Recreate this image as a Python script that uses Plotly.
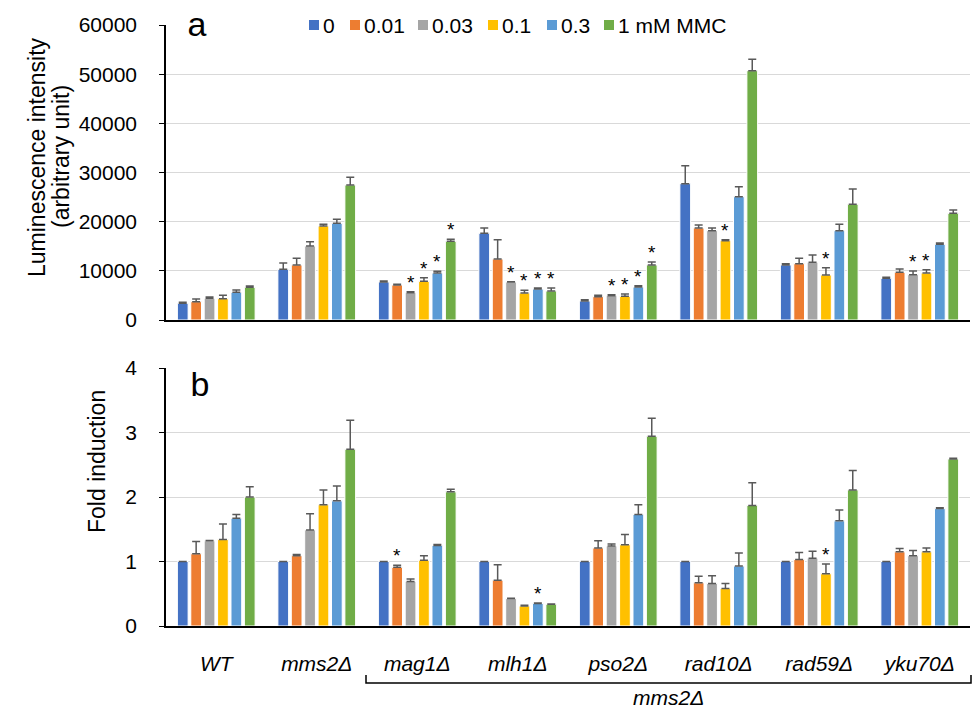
import plotly.graph_objects as go

# ---------------- data ----------------
strains = ["WT", "mms2Δ", "mag1Δ", "mlh1Δ", "pso2Δ", "rad10Δ", "rad59Δ", "yku70Δ"]
series = ["0", "0.01", "0.03", "0.1", "0.3", "1 mM MMC"]
colors = ["#4472C4", "#ED7D31", "#A5A5A5", "#FFC000", "#5B9BD5", "#70AD47"]

# Panel a: luminescence intensity, rows = strains, cols = series
lum_mean = [
    [3400, 3730, 4400, 4340, 5630, 6640],
    [10300, 11190, 15050, 19120, 19660, 27460],
    [7730, 7120, 5560, 7860, 9560, 16000],
    [17630, 12410, 7730, 5490, 6300, 5900],
    [3860, 4750, 4950, 4810, 6710, 11190],
    [27730, 18710, 18170, 16140, 25080, 50710],
    [11190, 11460, 11730, 9150, 18170, 23530],
    [8470, 9690, 9220, 9560, 15390, 21690],
]
lum_err = [
    [200, 540, 280, 680, 470, 260],
    [1290, 1350, 880, 340, 810, 1560],
    [200, 130, 200, 750, 340, 410],
    [1080, 3930, 70, 540, 210, 610],
    [280, 270, 200, 480, 270, 610],
    [3660, 610, 540, 200, 2040, 2310],
    [270, 1080, 1490, 1490, 1290, 3110],
    [210, 680, 750, 680, 270, 680],
]
lum_star = [
    [0, 0, 0, 0, 0, 0],
    [0, 0, 0, 0, 0, 0],
    [0, 0, 1, 1, 1, 1],
    [0, 0, 1, 1, 1, 1],
    [0, 0, 1, 1, 1, 1],
    [0, 0, 0, 1, 0, 0],
    [0, 0, 0, 1, 0, 0],
    [0, 0, 1, 1, 0, 0],
]

# Panel b: fold induction
fold_mean = [
    [1, 1.12, 1.32, 1.34, 1.67, 2.00],
    [1, 1.09, 1.49, 1.88, 1.94, 2.74],
    [1, 0.91, 0.69, 1.02, 1.25, 2.08],
    [1, 0.71, 0.425, 0.31, 0.35, 0.337],
    [1, 1.21, 1.24, 1.26, 1.73, 2.94],
    [1, 0.67, 0.66, 0.58, 0.93, 1.87],
    [1, 1.03, 1.05, 0.81, 1.63, 2.11],
    [1, 1.15, 1.09, 1.15, 1.82, 2.59],
]
fold_err = [
    [None, 0.19, 0.005, 0.24, 0.06, 0.16],
    [None, 0.02, 0.25, 0.23, 0.23, 0.45],
    [None, 0.03, 0.04, 0.07, 0.015, 0.04],
    [None, 0.24, 0.005, 0.01, 0.006, 0.005],
    [None, 0.11, 0.03, 0.16, 0.15, 0.28],
    [None, 0.10, 0.12, 0.08, 0.20, 0.35],
    [None, 0.11, 0.11, 0.15, 0.17, 0.30],
    [None, 0.05, 0.08, 0.06, 0.015, 0.01],
]
fold_star = [
    [0, 0, 0, 0, 0, 0],
    [0, 0, 0, 0, 0, 0],
    [0, 1, 0, 0, 0, 0],
    [0, 0, 0, 0, 1, 0],
    [0, 0, 0, 0, 0, 0],
    [0, 0, 0, 0, 0, 0],
    [0, 0, 0, 1, 0, 0],
    [0, 0, 0, 0, 0, 0],
]

lum_ticks = [0, 10000, 20000, 30000, 40000, 50000, 60000]
fold_ticks = [0, 1, 2, 3, 4]

# ---------------- layout geometry ----------------
W, H = 974, 710
ML, MR, MT, MB = 166, 4, 25, 84
PW, PH = W - ML - MR, H - MT - MB
BARGAP, GROUPGAP = 0.2, 0.2
FONT = "Liberation Sans, Arial, sans-serif"
ERRC = "#595959"
TXT = 21
TITLE = 23


def px_x(px):
    return (px - ML) / PW


def px_y(py):
    return (H - MB - py) / PH


fig = go.Figure()


def col(rows, j):
    return [r[j] for r in rows]


def nan(v):
    return float("nan") if v is None else v


for j, name in enumerate(series):
    fig.add_trace(go.Bar(
        x=strains, y=col(lum_mean, j), name=name, showlegend=False,
        marker=dict(color=colors[j], line=dict(color="white", width=1)),
        error_y=dict(type="data", symmetric=False, array=col(lum_err, j),
                     arrayminus=[0] * len(strains), color=ERRC, thickness=1.5, width=4),
        xaxis="x", yaxis="y",
    ))
    fig.add_trace(go.Bar(
        x=strains, y=col(fold_mean, j), name=name, showlegend=False,
        marker=dict(color=colors[j], line=dict(color="white", width=1)),
        error_y=dict(type="data", symmetric=False, array=[nan(v) for v in col(fold_err, j)],
                     arrayminus=[0] * len(strains), color=ERRC, thickness=1.5, width=4),
        xaxis="x2", yaxis="y2",
    ))

# significance stars
slot = PW / len(strains) * (1 - BARGAP) / len(series)
annotations = []
for i, s in enumerate(strains):
    for j in range(len(series)):
        shift = (j - (len(series) - 1) / 2) * slot
        if lum_star[i][j]:
            annotations.append(dict(x=s, y=lum_mean[i][j] + lum_err[i][j], xref="x", yref="y",
                                    text="*", showarrow=False, xshift=shift, yshift=-3,
                                    yanchor="bottom", font=dict(size=19, color="black", family=FONT)))
        if fold_star[i][j]:
            e = fold_err[i][j] or 0
            annotations.append(dict(x=s, y=fold_mean[i][j] + e, xref="x2", yref="y2",
                                    text="*", showarrow=False, xshift=shift, yshift=-3,
                                    yanchor="bottom", font=dict(size=19, color="black", family=FONT)))

# panel letters
annotations.append(dict(x=px_x(174), y=px_y(24), xref="paper", yref="paper", text="a",
                        showarrow=False, xanchor="left", yanchor="middle", bgcolor="white",
                        width=42, align="center", font=dict(size=34, color="black", family=FONT)))
annotations.append(dict(x=px_x(176), y=px_y(384), xref="paper", yref="paper", text="b",
                        showarrow=False, xanchor="left", yanchor="middle", bgcolor="white",
                        width=44, align="center", font=dict(size=34, color="black", family=FONT)))

# axis titles
for txt, xc, yc in [("Luminescence intensity", 37, 157), ("(arbitrary unit)", 61, 157),
                    ("Fold induction", 97, 462)]:
    annotations.append(dict(x=px_x(xc), y=px_y(yc), xref="paper", yref="paper",
                            text=txt, textangle=-90, showarrow=False,
                            xanchor="center", yanchor="middle",
                            font=dict(size=TITLE, color="black", family=FONT)))

# group label under bracket
annotations.append(dict(x=px_x(668), y=px_y(698), xref="paper", yref="paper",
                        text="<i>mms2Δ</i>", showarrow=False, xanchor="center", yanchor="middle",
                        font=dict(size=TXT, color="black", family=FONT)))

shapes = []
# white box behind legend (covers top gridline)
shapes.append(dict(type="rect", xref="paper", yref="paper", x0=px_x(293), x1=px_x(733),
                   y0=px_y(38), y1=px_y(12), fillcolor="white", line=dict(width=0), layer="above"))
# manual legend
leg_sq = [309, 350, 418, 488, 547, 604]
for j, name in enumerate(series):
    x0 = leg_sq[j]
    shapes.append(dict(type="rect", xref="paper", yref="paper", x0=px_x(x0), x1=px_x(x0 + 10),
                       y0=px_y(30), y1=px_y(20), fillcolor=colors[j], line=dict(width=0),
                       layer="above"))
    annotations.append(dict(x=px_x(x0 + 12), y=px_y(25), xref="paper", yref="paper", text=name,
                            showarrow=False, xanchor="left", yanchor="middle",
                            font=dict(size=TXT, color="black", family=FONT)))

# bracket
shapes.append(dict(type="path", xref="paper", yref="paper",
                   path=f"M {px_x(366)} {px_y(675)} L {px_x(366)} {px_y(683)} L {px_x(971)} {px_y(683)} L {px_x(971)} {px_y(675)}",
                   line=dict(color="black", width=1.5)))

axis_common = dict(showline=True, linecolor="black", linewidth=1.5,
                   tickfont=dict(size=TXT, color="black", family=FONT))

tickvals_x = strains
ticktext_x = [f"<i>{s}</i>" for s in strains]

fig.update_layout(
    width=W, height=H,
    margin=dict(l=ML, r=MR, t=MT, b=MB, pad=0),
    paper_bgcolor="white", plot_bgcolor="white",
    barmode="group", bargap=BARGAP, bargroupgap=GROUPGAP,
    showlegend=False,
    font=dict(family=FONT, color="black"),
    xaxis=dict(domain=[0, 1], anchor="y", type="category", categoryorder="array",
               categoryarray=strains, showticklabels=False, ticks="", **axis_common),
    yaxis=dict(domain=[px_y(320), 1.0], anchor="x", range=[0, 60000], tickvals=lum_ticks,
               tickformat="d", ticks="outside", ticklen=5, tickcolor="black", showgrid=True,
               gridcolor="#D9D9D9", gridwidth=1, zeroline=False, ticklabelstandoff=18,
               **axis_common),
    xaxis2=dict(domain=[0, 1], anchor="y2", type="category", categoryorder="array",
                categoryarray=strains, tickvals=tickvals_x, ticktext=ticktext_x, ticks="",
                ticklabelstandoff=18, **axis_common),
    yaxis2=dict(domain=[0, px_y(368)], anchor="x2", range=[0, 4], tickvals=fold_ticks,
                ticks="outside", ticklen=5, tickcolor="black", showgrid=True,
                gridcolor="#D9D9D9", gridwidth=1, zeroline=False, ticklabelstandoff=18,
                **axis_common),
    annotations=annotations,
    shapes=shapes,
)

fig.write_html("out.html", config={"displayModeBar": False},
               post_script="document.body.style.margin='0';")
